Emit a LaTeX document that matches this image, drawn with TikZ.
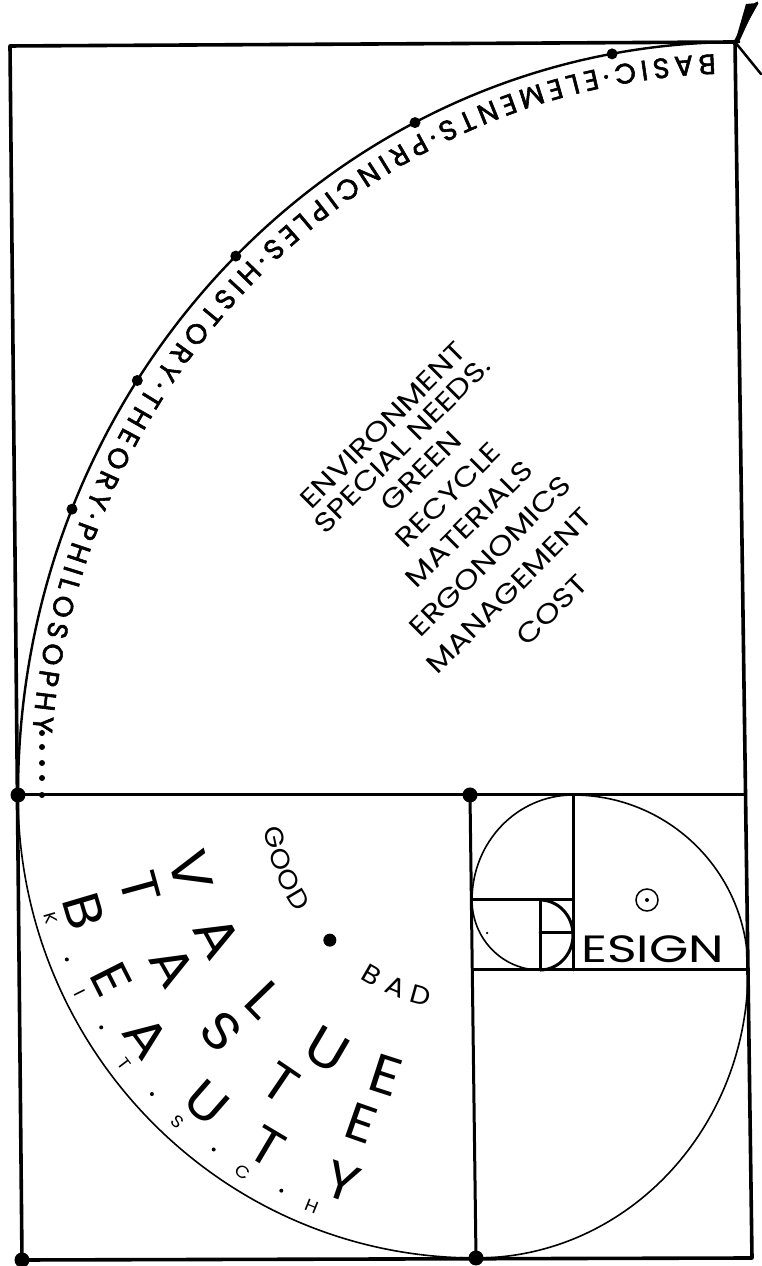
\documentclass[tikz,border=0pt]{standalone}
\usepackage{fontspec}
\setmainfont{Poppins}
\newfontfamily\arcfam{Poppins}[RawFeature={embolden=2}]
\newfontfamily\ringfam{Poppins}[FakeStretch=1.1]
\usetikzlibrary{decorations.text}
\newcommand\arcfnt{\arcfam\fontsize{28pt}{28pt}\selectfont}
\newcommand\widen[2]{\scalebox{#1}[1]{#2}}
\begin{document}
\begin{tikzpicture}[x=1pt,y=1pt,
  frame/.style={line width=3.6pt, line cap=round, line join=round},
  inner/.style={line width=3pt, line cap=round},
  spiral/.style={line width=1.6pt},
  bigdot/.style={circle, fill=black, inner sep=0pt, minimum size=15pt},
  arcdot/.style={circle, fill=black, inner sep=0pt, minimum size=11pt},
  smalldot/.style={circle, fill=black, inner sep=0pt, minimum size=6pt},
  tinydot/.style={circle, fill=black, inner sep=0pt, minimum size=4pt},
  ringl/.style={inner sep=0pt, font=\ringfam\fontsize{#1pt}{#1pt}\selectfont},
  listtxt/.style={inner sep=0pt, rotate=45, font=\fontsize{27pt}{27pt}\selectfont},
]
\fill[white] (0,0) rectangle (761,1266);
\useasboundingbox (0,0) rectangle (761,1266);

% frame coordinates
\coordinate (TL) at (10,1220);
\coordinate (TR) at (735,1224);
\coordinate (BR) at (752,8);
\coordinate (BL) at (22,6);
\coordinate (ML) at (18,471);
\coordinate (MR) at (745,471);
\coordinate (MT) at (470,471);
\coordinate (MB) at (476,8);
\coordinate (H2L) at (474,296);
\coordinate (H2R) at (748,296);
\coordinate (V2T) at (573,471);
\coordinate (V2B) at (573,296);
\coordinate (H3L) at (472,366);
\coordinate (H3R) at (573,366);
\coordinate (V3T) at (540,366);
\coordinate (V3B) at (540,296);
\coordinate (H4L) at (540,333);
\coordinate (H4R) at (573,333);
\coordinate (C1) at (740,471);
\coordinate (C2) at (476,471);
\coordinate (AT) at (715.2,1211.6);

% straight lines
\draw[frame] (TL) -- (TR) -- (BR) -- (BL) -- cycle;
\draw[inner] (ML) -- (MR);
\draw[inner] (MT) -- (MB);
\draw[inner] (H2L) -- (H2R);
\draw[inner] (V2T) -- (V2B);
\draw[inner] (H3L) -- (H3R);
\draw[inner] (V3T) -- (V3B);
\draw[inner] (H4L) -- (H4R);

% spiral arcs
\draw[line width=2.4pt] (ML) arc[start angle=180, end angle=90, x radius=722, y radius=753];
\draw[spiral] (ML) arc[start angle=180, end angle=270, x radius=458, y radius=463];
\draw[spiral] (MB) arc[start angle=270, end angle=360, x radius=272, y radius=288];
\draw[spiral] (H2R) arc[start angle=0, end angle=90, x radius=175, y radius=175];
\draw[spiral] (V2T) arc[start angle=90, end angle=180, x radius=101, y radius=105];
\draw[spiral] (H3L) arc[start angle=180, end angle=270, x radius=68, y radius=70];
\draw[inner] (V3B) arc[start angle=270, end angle=450, x radius=33, y radius=35];

% top-right mark
\coordinate (M1) at (757,1263);
\coordinate (M1b) at (746,1262);
\coordinate (M2) at (761,1192);
\fill (TR) -- (M1b) -- (M1) -- ([xshift=4pt]TR) -- cycle;
\draw[line width=3pt, line cap=round] (TR) -- (M1);
\draw[line width=2.5pt, line cap=round] (TR) -- (M2);

% dots
\node[bigdot] (dML) at (ML) {};
\node[bigdot] (dMT) at (MT) {};
\node[bigdot] (dMB) at (MB) {};
\node[bigdot] (dBL) at (BL) {};
\node[arcdot] (ad1) at (612.1,1212.1) {};
\node[arcdot] (ad2) at (415.0,1143.4) {};
\node[arcdot] (ad3) at (235.8,1009.9) {};
\node[arcdot] (ad4) at (137.3,885.5) {};
\node[arcdot] (ad5) at (72.0,756.8) {};
\foreach \yy [count=\i] in {533,519,503,488,471}
  \node[smalldot] (ld\i) at (42,\yy) {};

% text along the big arc
\path[decorate, decoration={text along path, text align=fit to path,
  text={|\arcfnt|BASIC·ELEMENTS·PRINCIPLES·HISTORY·THEORY·PHILOSOPHY}}]
  (AT) arc[start angle=92, end angle=175, x radius=710, y radius=741];

% central list
\node[listtxt] (l1) at (383,841) {\widen{1.2}{ENVIRONMENT}};
\node[listtxt] (l2) at (402,821) {\widen{1.2}{SPECIAL NEEDS.}};
\node[listtxt] (l3) at (421,795) {\widen{1.2}{GREEN}};
\node[listtxt] (l4) at (448,771) {\widen{1.2}{RECYCLE}};
\node[listtxt] (l5) at (469,742) {\widen{1.2}{MATERIALS}};
\node[listtxt] (l6) at (490,710) {\widen{1.2}{ERGONOMICS}};
\node[listtxt] (l7) at (509,675) {\widen{1.2}{MANAGEMENT}};
\node[listtxt] (l8) at (552,656) {\widen{1.2}{COST}};

% DESIGN
\node[anchor=base west, inner sep=0pt, font=\fontsize{38pt}{38pt}\selectfont] (esign) at (581,303) {\widen{1.33}{ESIGN}};
\node[draw, circle, line width=1.5pt, minimum size=22pt, inner sep=0pt] (eye) at (647,366) {};
\node[tinydot] (eyedot) at (eye) {};
\node[circle, fill=black, inner sep=0pt, minimum size=2.5pt] (speck) at (487,333) {};

% rings of letters (bottom-left square)
\foreach \ch/\a [count=\i] in {G/192,O/198.2,O/204.4,D/210.6}
  \node[ringl=26, rotate=\a+90] (g\i) at ([shift={(\a:206)}]C2) {\ch};
\node[bigdot, minimum size=13pt] (gb) at ([shift={(224.8:206)}]C2) {};
\foreach \ch/\a [count=\i] in {B/240,A/247.3,D/254.5}
  \node[ringl=26, rotate=\a+90] (b\i) at ([shift={(\a:208)}]C2) {\ch};
\foreach \ch/\a [count=\i] in {V/195,A/208.8,L/224,U/239.6,E/252.1}
  \node[ringl=54, rotate=\a+90] (v\i) at ([shift={(\a:295)}]C2) {\ch};
\foreach \ch/\a [count=\i] in {T/195.4,A/209.5,S/222.9,T/235.8,E/250.7}
  \node[ringl=52, rotate=\a+90] (t\i) at ([shift={(\a:348)}]C2) {\ch};
\foreach \ch/\a [count=\i] in {B/196.5,E/206.8,A/216.3,U/228.8,T/239.3,Y/250.9}
  \node[ringl=52, rotate=\a+90] (bt\i) at ([shift={(\a:409)}]C2) {\ch};
\foreach \ch/\a [count=\i] in {K/196.2,I/206.5,T/217.4,S/227.6,C/238.3,H/248.2}
  \node[ringl=17, rotate=\a+90] (k\i) at ([shift={(\a:443)}]C2) {\ch};
\foreach \a [count=\i] in {201.9,211.8,222.7,233.5,243.8}
  \node[tinydot] (kd\i) at ([shift={(\a:441)}]C2) {};
\end{tikzpicture}
\end{document}
